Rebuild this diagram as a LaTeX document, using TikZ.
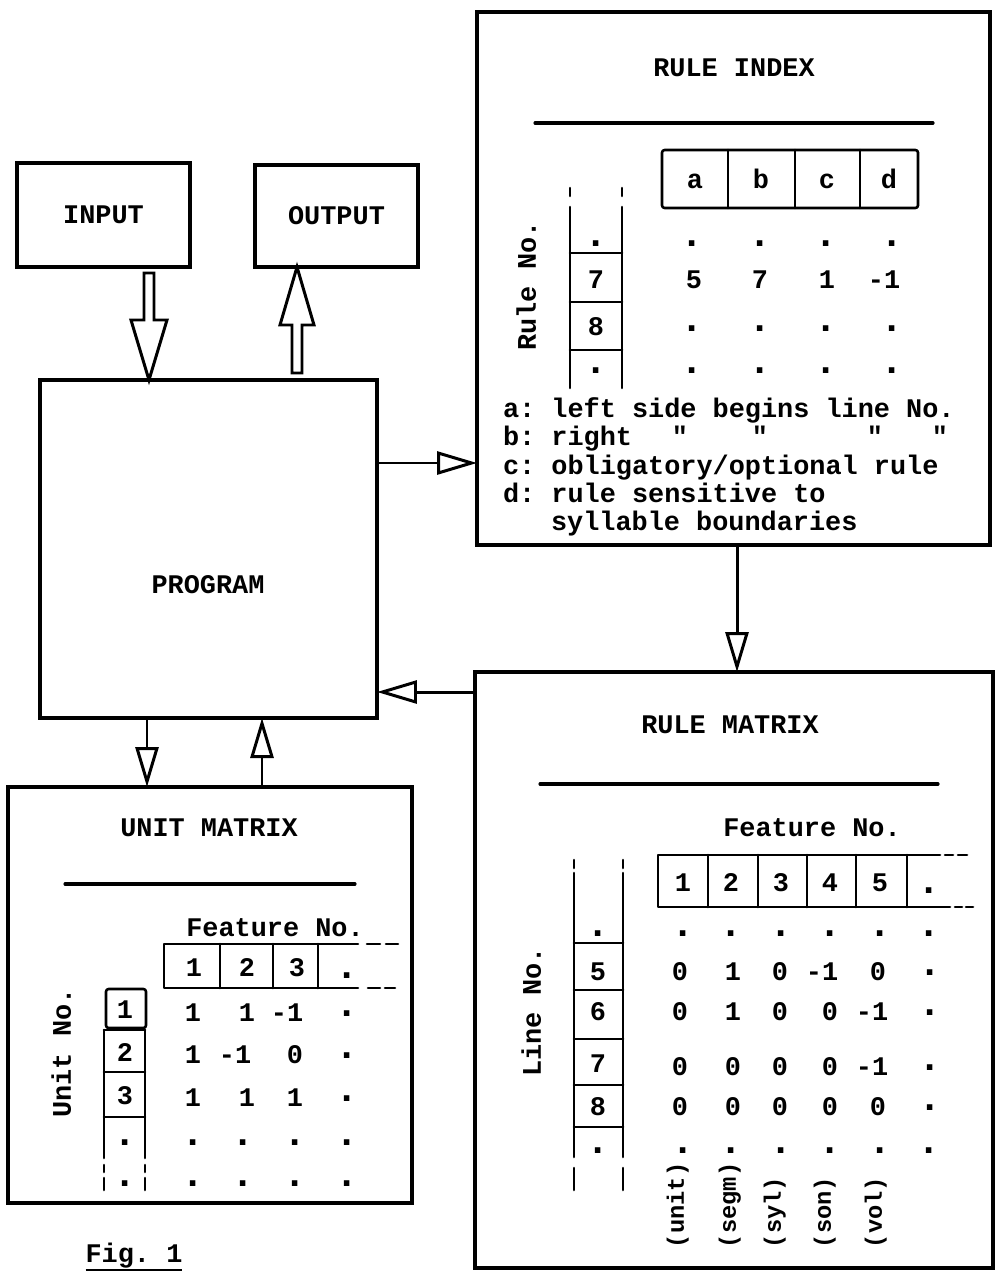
\documentclass[tikz,border=0pt]{standalone}
\usepackage{fontspec}
\setmainfont{Liberation Mono}
\newfontfamily\rawmono{Liberation Mono}[Ligatures=TeXOff]
\frenchspacing
\usetikzlibrary{arrows.meta,fit}
\begin{document}
\begin{tikzpicture}[x=0.02cm,y=-0.02cm,
  every node/.style={font=\fontsize{15.3}{18}\selectfont\bfseries, inner sep=0pt, outer sep=0pt, text height=10pt, text depth=0pt},
  box/.style={draw, line width=1.8pt},
  cell/.style={line width=1.5pt, line cap=round, line join=round},
  hrule/.style={line width=1.8pt, line cap=round},
  harrow/.style={line width=1.7pt, -{Triangle[open, length=0.8cm, width=0.46cm]}},
  fat/.style={draw, fill=white, line width=1.7pt, line join=miter},
  dotn/.style={anchor=base, yshift=-2pt, text height=4pt, font=\fontsize{22}{22}\selectfont\bfseries},
  legend/.style={anchor=base west},
  vlab/.style={rotate=90},
  collab/.style={rotate=90, anchor=west, font=\fontsize{13.5}{16}\selectfont\bfseries},
]
\useasboundingbox (0,0) rectangle (1001,1274);

% ---------- main boxes ----------
\node[box, fit={(17,163) (190,267)}] (input) {};
\node (inputt) at (input.center) {INPUT};
\node[box, fit={(255,165) (418,267)}] (output) {};
\node (outputt) at (output.center) {OUTPUT};
\node[box, fit={(40,380) (377,718)}] (prog) {};
\node (progt) at (208,585) {PROGRAM};
\node[box, fit={(477,12) (990,545)}] (ridx) {};
\node[box, fit={(475,672) (993,1268)}] (rmat) {};
\node[box, fit={(8,787) (412,1203)}] (umat) {};

% ---------- fat arrows ----------
\coordinate (inTop) at (input.south -| 149,0);
\coordinate (inTip) at (prog.north -| 149,0);
\draw[fat] ([shift={(-5,6)}]inTop) -- ([shift={(5,6)}]inTop) -- ([shift={(5,-60)}]inTip)
  -- ([shift={(18,-60)}]inTip) -- (inTip) -- ([shift={(-18,-60)}]inTip)
  -- ([shift={(-5,-60)}]inTip) -- cycle;
\coordinate (outTip) at (output.south -| 297,0);
\coordinate (outBot) at (prog.north -| 297,0);
\draw[fat] ([shift={(-5,-7)}]outBot) -- ([shift={(5,-7)}]outBot) -- ([shift={(5,58)}]outTip)
  -- ([shift={(17,58)}]outTip) -- (outTip) -- ([shift={(-17,58)}]outTip)
  -- ([shift={(-5,58)}]outTip) -- cycle;

% ---------- thin arrows ----------
\draw[harrow] (prog.east |- 0,463) -- (ridx.west |- 0,463);
\draw[harrow] (ridx.south -| 737,0) -- (rmat.north -| 737,0);
\draw[harrow] (rmat.west |- 0,692) -- (prog.east |- 0,692);
\draw[harrow] (prog.south -| 147,0) -- (umat.north -| 147,0);
\draw[harrow] (umat.north -| 262,0) -- (prog.south -| 262,0);

% ---------- RULE INDEX ----------
\node (ri-title) at (734,68) {RULE INDEX};
\draw[hrule] (535,123) -- (933,123);
\draw[cell, rounded corners=1.5pt] (662,150) rectangle (918,208);
\foreach \x in {728,795,860} \draw[cell] (\x,150) -- (\x,208);
\foreach \t/\x in {a/695,b/761,c/827,d/889} \node (ri-h\t) at (\x,180) {\t};
\draw[cell] (570,188) -- (570,196) (622,188) -- (622,196);
\draw[cell] (570,207) -- (570,388) (622,207) -- (622,388);
\foreach \y in {253,302,350} \draw[cell] (570,\y) -- (622,\y);
\node[dotn] (ri-r1) at (596,243) {.};
\node (ri-r7) at (596,280) {7};
\node (ri-r8) at (596,327) {8};
\node[dotn] (ri-r9) at (596,370) {.};
\node[vlab] (ri-lab) at (527,286) {Rule No.};
\foreach \x/\i in {692/1,760/2,826/3,892/4}{
  \node[dotn] (ri-a\i) at (\x,243) {.};
  \node[dotn] (ri-c\i) at (\x,328) {.};
  \node[dotn] (ri-d\i) at (\x,370) {.};
}
\foreach \x/\t/\i in {694/5/1,760/7/2,827/1/3,884/-1/4} \node (ri-b\i) at (\x,280) {\t};
\node[legend] (lg1) at (503,417) {a: left side begins line No.};
\node[legend] (lg2) at (503,445) {b: right};
\foreach \x/\i in {680/1,760/2,875/3,940/4} \node[anchor=base] (dit\i) at (\x,445) {\rawmono "};
\node[legend] (lg3) at (503,474) {c: obligatory/optional rule};
\node[legend] (lg4) at (503,502) {d: rule sensitive to};
\node[legend] (lg5) at (551,530) {syllable boundaries};

% ---------- RULE MATRIX ----------
\node (rm-title) at (730,725) {RULE MATRIX};
\draw[hrule] (540,784) -- (938,784);
\node (rm-feat) at (812,828) {Feature No.};
\draw[cell] (940,855) -- (658,855) -- (658,907) -- (950,907);
\foreach \x in {708,758,807,856,907} \draw[cell] (\x,855) -- (\x,907);
\draw[cell] (945,855) -- (953,855) (958,855) -- (967,855);
\draw[cell] (955,907) -- (962,907) (966,907) -- (973,907);
\foreach \x/\t in {683/1,731/2,781/3,830/4,880/5} \node (rm-h\t) at (\x,883) {\t};
\node[dotn] (rm-h6) at (929,890) {.};
\draw[cell] (574,860) -- (574,868) (623,860) -- (623,868);
\draw[cell] (574,873) -- (574,1157) (623,873) -- (623,1157);
\draw[cell] (574,1168) -- (574,1190) (623,1168) -- (623,1190);
\foreach \y in {943,990,1039,1085,1127} \draw[cell] (574,\y) -- (623,\y);
\node[dotn] (rm-r0) at (598,933) {.};
\foreach \y/\t in {972/5,1012/6,1064/7,1107/8} \node (rm-r\t) at (598,\y) {\t};
\node[dotn] (rm-r9) at (598,1150) {.};
\node[vlab] (rm-lab) at (532,1012) {Line No.};
\foreach \x/\i in {683/1,731/2,781/3,830/4,880/5,929/6}{
  \node[dotn] (rm-a\i) at (\x,933) {.};
  \node[dotn] (rm-f\i) at (\x,1150) {.};
}
\foreach \x/\t/\i in {680/0/1,733/1/2,780/0/3,822/-1/4,878/0/5} \node (rm-b\i) at (\x,972) {\t};
\foreach \x/\t/\i in {680/0/1,733/1/2,780/0/3,830/0/4,872/-1/5} \node (rm-c\i) at (\x,1012) {\t};
\foreach \x/\t/\i in {680/0/1,733/0/2,780/0/3,830/0/4,872/-1/5} \node (rm-d\i) at (\x,1067) {\t};
\foreach \x/\t/\i in {680/0/1,733/0/2,780/0/3,830/0/4,878/0/5} \node (rm-e\i) at (\x,1107) {\t};
\foreach \y/\i in {972/b,1012/c,1067/d,1107/e} \node[dotn] (rm-\i6) at (930,\y) {.};
\foreach \x/\t/\i in {675/(unit)/1,727/(segm)/2,772/(syl)/3,822/(son)/4,873/(vol)/5}
  \node[collab] (rm-n\i) at (\x,1248) {\t};

% ---------- UNIT MATRIX ----------
\node (um-title) at (209,828) {UNIT MATRIX};
\draw[hrule] (65,884) -- (355,884);
\node (um-feat) at (275,928) {Feature No.};
\draw[cell] (358,944) -- (164,944) -- (164,988) -- (358,988);
\foreach \x in {220,273,318} \draw[cell] (\x,944) -- (\x,988);
\draw[cell] (367,944) -- (380,944) (386,944) -- (398,944);
\draw[cell] (368,988) -- (380,988) (385,988) -- (395,988);
\foreach \x/\t in {194/1,247/2,297/3} \node (um-h\t) at (\x,968) {\t};
\node[dotn] (um-h4) at (347,975) {.};
\draw[cell, rounded corners=1.5pt] (106,989) rectangle (146,1028);
\draw[cell] (104,1030) -- (104,1158) (145,1030) -- (145,1158);
\draw[cell] (104,1030) -- (145,1030) (104,1072) -- (145,1072) (104,1117) -- (145,1117);
\draw[cell] (104,1165) -- (104,1172) (104,1178) -- (104,1190);
\draw[cell] (145,1165) -- (145,1172) (145,1178) -- (145,1190);
\foreach \y/\t in {1010/1,1053/2,1096/3} \node (um-r\t) at (125,\y) {\t};
\node[dotn] (um-r4) at (125,1142) {.};
\node[dotn] (um-r5) at (125,1183) {.};
\node[vlab] (um-lab) at (62,1053) {Unit No.};
\foreach \x/\t/\i in {193/1/1,247/1/2,287/-1/3} \node (um-a\i) at (\x,1013) {\t};
\foreach \x/\t/\i in {193/1/1,235/-1/2,295/0/3} \node (um-b\i) at (\x,1055) {\t};
\foreach \x/\t/\i in {193/1/1,247/1/2,295/1/3} \node (um-c\i) at (\x,1098) {\t};
\foreach \y/\i in {1013/a,1055/b,1098/c} \node[dotn] (um-\i4) at (347,\y) {.};
\foreach \x/\i in {193/1,243/2,295/3,347/4}{
  \node[dotn] (um-d\i) at (\x,1142) {.};
  \node[dotn] (um-e\i) at (\x,1183) {.};
}

% ---------- caption ----------
\node (fig) at (134,1254) {Fig. 1};
\draw[line width=1.4pt] ([yshift=-4pt]fig.south west) -- ([yshift=-4pt]fig.south east);
\end{tikzpicture}
\end{document}
